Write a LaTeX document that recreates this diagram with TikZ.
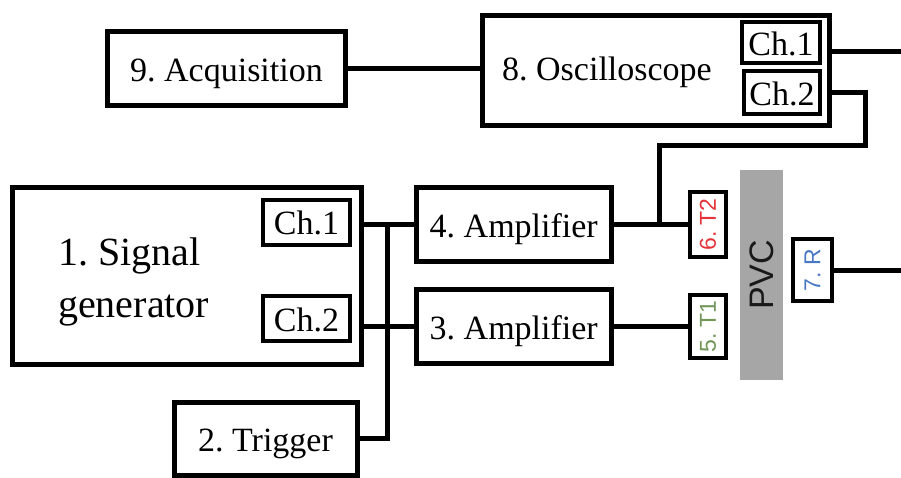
\documentclass[tikz,border=0pt]{standalone}
\usepackage{fontspec}
\usepackage{graphicx}
\setmainfont{Liberation Serif}
\newfontfamily\labelsans{Liberation Sans}
\frenchspacing
\definecolor{tred}{RGB}{228,52,58}
\definecolor{tgreen}{RGB}{112,150,88}
\definecolor{tblue}{RGB}{72,120,196}
\definecolor{pvcgray}{RGB}{166,166,166}
\tikzset{
  blk/.style={draw, line width=5, rectangle, inner sep=0pt,
    font=\fontsize{34}{40}\selectfont, text height=26pt, text depth=0pt},
  chbox/.style={draw, line width=4, rectangle, inner sep=0pt,
    font=\fontsize{34}{40}\selectfont, text height=25pt, text depth=0pt},
  tbox/.style={draw, line width=4, rectangle, inner sep=0pt, fill=white,
    font=\labelsans\fontsize{23}{27}\selectfont},
  lbl/.style={inner sep=0pt, font=\fontsize{34}{40}\selectfont,
    text height=26pt, text depth=0pt},
  wire/.style={line width=5},
}
\begin{document}
\begin{tikzpicture}[x=1pt, y=-1pt]
\useasboundingbox (0,0) rectangle (901,478);

% acquisition and oscilloscope
\node[blk, minimum width=238, minimum height=74] (acq) at (226.5,68.5) {9. Acquisition};
\node[blk, minimum width=347.5, minimum height=110] (osc) at (656,70.5) {};
\node[lbl] (osclbl) at (607,68) {8. Oscilloscope};
\node[chbox, minimum width=78, minimum height=41.5] (och1) at (781,42.75) {Ch.1};
\node[chbox, minimum width=76, minimum height=43] (och2) at (782,93) {Ch.2};

% signal generator
\node[blk, minimum width=349, minimum height=176] (gen) at (186.5,276) {};
\node[inner sep=0pt, align=left, anchor=west, font=\fontsize{40}{52}\selectfont]
  (genlbl) at (58,282) {1. Signal\\generator};
\node[chbox, minimum width=87, minimum height=45] (gch1) at (306.5,222.5) {Ch.1};
\node[chbox, minimum width=87, minimum height=45] (gch2) at (306.5,318.5) {Ch.2};

% amplifiers and trigger
\node[blk, minimum width=194.5, minimum height=73] (amp4) at (513.75,224.5) {4. Amplifier};
\node[blk, minimum width=194.5, minimum height=74.5] (amp3) at (513.75,326.5) {3. Amplifier};
\node[blk, minimum width=183, minimum height=73] (trig) at (265.5,438.5) {2. Trigger};

% PVC sample with sensors
\node[fill=pvcgray, inner sep=0pt, minimum width=43, minimum height=210,
  font=\labelsans\fontsize{34}{40}\selectfont, text=black!90] (pvc) at (761.5,275) {\rotatebox{90}{PVC}};
\node[tbox, minimum width=36, minimum height=64, text=tred] (t2) at (708,224.5) {\rotatebox{90}{6. T2}};
\node[tbox, minimum width=36, minimum height=63, text=tgreen] (t1) at (708,326.5) {\rotatebox{90}{5. T1}};
\node[tbox, minimum width=39, minimum height=62, text=tblue] (rr) at (812.5,270) {\rotatebox{90}{7. R}};

% routing points
\coordinate (out1) at (901,52);
\coordinate (out2) at (901,270);
\coordinate (bend) at (865,146);
\coordinate (tap) at (659,224.5);
\coordinate (junc) at (387,224.5);

% connections
\draw[wire] (acq.east) -- (osc.west |- acq.east);
\draw[wire] (osc.east |- out1) -- (out1);
\draw[wire] (osc.east |- och2) -| (bend) -| (tap);
\draw[wire] (gen.east |- amp4) -- (amp4.west);
\draw[wire] (gen.east |- amp3) -- (amp3.west);
\draw[wire] (trig.east) -| (junc);
\draw[wire] (amp4.east) -- (t2.west);
\draw[wire] (amp3.east) -- (t1.west);
\draw[wire] (rr.east) -- (out2);
\end{tikzpicture}
\end{document}
